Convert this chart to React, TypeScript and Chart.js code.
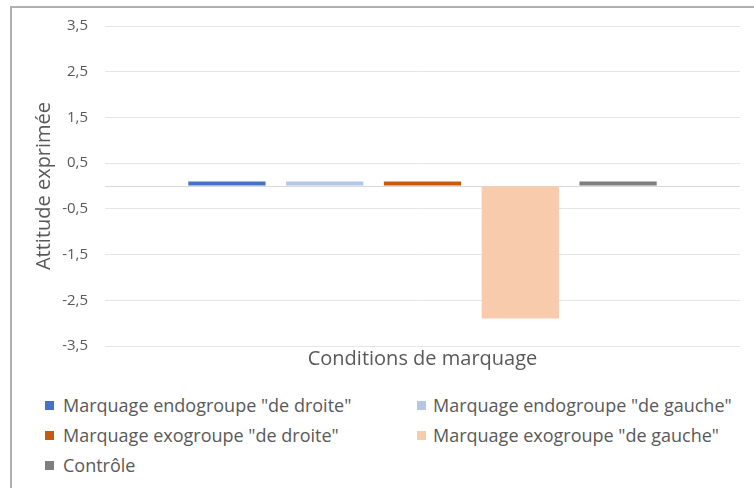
import React, { useEffect, useRef } from "react";
import { Chart, registerables } from "chart.js";

Chart.register(...registerables);

const categories = ["Conditions de marquage"];
const seriesNames = [
  'Marquage endogroupe "de droite"',
  'Marquage endogroupe "de gauche"',
  'Marquage exogroupe "de droite"',
  'Marquage exogroupe "de gauche"',
  "Contrôle",
];
const seriesValues = [0.1, 0.1, 0.1, -2.9, 0.1];
const seriesColors = ["#4472C4", "#B4C7E7", "#C55A11", "#F8CBAD", "#7F7F7F"];
const yTicks = [-3.5, -2.5, -1.5, -0.5, 0.5, 1.5, 2.5, 3.5];

const FONT = "'Open Sans', 'Noto Sans', sans-serif";
const TEXT = "#595959";

export default function App() {
  const ref = useRef<HTMLCanvasElement | null>(null);

  useEffect(() => {
    if (!ref.current) return;
    const chart = new Chart(ref.current, {
      type: "bar",
      data: {
        labels: categories,
        datasets: seriesNames.map((name, i) => ({
          label: name,
          data: [seriesValues[i]],
          backgroundColor: seriesColors[i],
          borderWidth: 0,
          categoryPercentage: 0.77,
          barPercentage: 0.79,
        })),
      },
      options: {
        animation: false,
        responsive: false,
        maintainAspectRatio: false,
        layout: { padding: { left: 32, right: 14, top: 24, bottom: 2 } },
        plugins: { legend: { display: false }, tooltip: { enabled: false } },
        scales: {
          x: {
            grid: { display: false },
            border: { display: false },
            ticks: { display: false },
            title: {
              display: true,
              text: "Conditions de marquage",
              color: TEXT,
              font: { family: FONT, size: 20 },
              padding: { top: -7, bottom: 7 },
            },
          },
          y: {
            min: -3.5,
            max: 3.5,
            afterBuildTicks: (scale: any) => {
              const t = yTicks.map((v) => ({ value: v }));
              t.splice(4, 0, { value: 0 });
              scale.ticks = t;
            },
            afterFit: (scale: any) => {
              scale.width = 73;
            },
            grid: {
              drawTicks: false,
              color: (ctx: any) => (ctx.tick && ctx.tick.value === 0 ? "#D9D9D9" : "#E6E6E6"),
              lineWidth: 1,
            },
            border: { display: false },
            ticks: {
              padding: 17,
              color: TEXT,
              font: { family: FONT, size: 15 },
              callback: (v: any) => (v === 0 ? "" : String(v).replace(".", ",")),
            },
            title: {
              display: true,
              text: "Attitude exprimée",
              color: TEXT,
              font: { family: FONT, size: 20 },
              padding: { top: 0, bottom: 0 },
            },
          },
        },
      },
    });
    return () => chart.destroy();
  }, []);

  const legendRows = [
    [0, 1],
    [2, 3],
    [4],
  ];

  return (
    <div
      style={{
        position: "fixed",
        left: 0,
        top: 0,
        width: 754,
        height: 488,
        background: "#fff",
        overflow: "hidden",
        fontFamily: FONT,
      }}
    >
      <div
        style={{
          position: "absolute",
          left: 10,
          top: 6,
          width: 780,
          height: 520,
          border: "2px solid #B0B0B0",
          boxSizing: "border-box",
        }}
      />
      <canvas
        ref={ref}
        width={754}
        height={380}
        style={{ position: "absolute", left: 0, top: 0, width: 754, height: 380 }}
      />
      {legendRows.map((row, r) =>
        row.map((idx, c) => (
          <div
            key={idx}
            style={{
              position: "absolute",
              left: c === 0 ? 45 : 417,
              top: 405 + r * 30 - 13,
              height: 26,
              display: "flex",
              alignItems: "center",
              whiteSpace: "nowrap",
              color: TEXT,
              fontSize: 18,
            }}
          >
            <span
              style={{
                display: "inline-block",
                width: 9,
                height: 9,
                background: seriesColors[idx],
                marginRight: c === 0 ? 9 : 7,
              }}
            />
            <span>{seriesNames[idx]}</span>
          </div>
        ))
      )}
    </div>
  );
}
